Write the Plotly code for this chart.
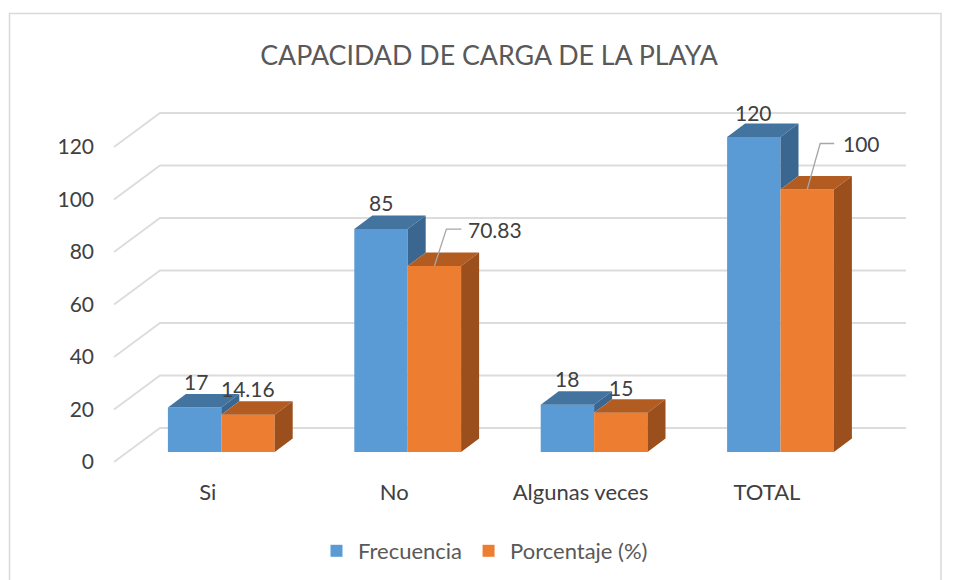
import plotly.graph_objects as go

categories = ["Si", "No", "Algunas veces", "TOTAL"]
frecuencia = [17, 85, 18, 120]
porcentaje = [14.16, 70.83, 15, 100]
frecuencia_labels = ["17", "85", "18", "120"]
porcentaje_labels = ["14.16", "70.83", "15", "100"]
y_ticks = [0, 20, 40, 60, 80, 100, 120]

# plot scales (px per data unit) and plot box
W, H = 954, 580
PX_X, PX_Y = 186.4, 2.625
X0_PX, Y0_PX = 221.3, 452.0        # where x=0 / value=0 fall on the bar plane
L, R, T, B = 97, 925, 90, 472
fx = lambda px: (px - X0_PX) / PX_X
fy = lambda px: (Y0_PX - px) / PX_Y

BAR_W = 53.4 / PX_X
DX, DY = 18 / PX_X, 13.5 / PX_Y     # bar depth
FRONT = 10 / PX_Y                   # wall front below bar plane
BACK = 24 / PX_Y                    # wall back above bar plane

BLUE, BLUE_TOP, BLUE_SIDE = "#5B9BD5", "#4374A0", "#3A6690"
ORANGE, ORANGE_TOP, ORANGE_SIDE = "#ED7D31", "#B35C21", "#9A4F1C"
TXT = "#404040"
FONT = "Lato"

fig = go.Figure()
xs = list(range(len(categories)))
fig.add_bar(x=xs, y=frecuencia, name="Frecuencia", marker=dict(color=BLUE, line_width=0))
fig.add_bar(x=xs, y=porcentaje, name="Porcentaje (%)", marker=dict(color=ORANGE, line_width=0))


def poly(px, py, color):
    fig.add_scatter(x=px + px[:1], y=py + py[:1], mode="lines", fill="toself", fillcolor=color,
                    line=dict(width=0, color=color), showlegend=False, hoverinfo="skip")


for i, (b, o) in enumerate(zip(frecuencia, porcentaje)):
    # blue top + visible part of blue side
    xl, xm, xr = i - BAR_W, i, i + BAR_W
    poly([xl, xl + DX, xm + DX, xm], [b, b + DY, b + DY, b], BLUE_TOP)
    poly([xm, xm + DX, xm + DX, xm], [o, o + DY, b + DY, b], BLUE_SIDE)
    # orange top + side
    poly([xm, xm + DX, xr + DX, xr], [o, o + DY, o + DY, o], ORANGE_TOP)
    poly([xr, xr + DX, xr + DX, xr], [0, DY, o + DY, o], ORANGE_SIDE)

# gridlines of the 3D wall
shapes = []
gx0, gx1, gx2 = fx(114), fx(160), fx(906)
for v in y_ticks:
    shapes.append(dict(type="path", layer="below", xref="x", yref="y",
                       path=f"M {gx0},{v - FRONT} L {gx1},{v + BACK} L {gx2},{v + BACK}",
                       line=dict(color="#DCDCDC", width=1.8)))

# chart frame
shapes.append(dict(type="rect", layer="below", xref="paper", yref="paper",
                   x0=(9.5 - L) / (R - L), x1=(941 - L) / (R - L),
                   y0=(B - 600) / (B - T), y1=(B - 13.5) / (B - T),
                   line=dict(color="#D9D9D9", width=1.5)))

# leader lines for the two displaced labels
for i, v, (dx1, dy1), (dx2, dy2) in [
    (1, porcentaje[1], (12, 37), (27, 37)),
    (3, porcentaje[3], (13, 46), (27, 46)),
]:
    cx = i + BAR_W / 2
    shapes.append(dict(type="path", xref="x", yref="y",
                       path=f"M {cx},{v} L {cx + dx1 / PX_X},{v + dy1 / PX_Y} L {cx + dx2 / PX_X},{v + dy2 / PX_Y}",
                       line=dict(color="#A6A6A6", width=1.3)))

annotations = []
blue_off = [(1, 26), (0, 26), (0, 26), (0, 25)]
orange_off = [(0, 26), (61, 37), (0, 25), (54, 46)]
for i in xs:
    annotations.append(dict(x=i - BAR_W / 2, y=frecuencia[i], text=frecuencia_labels[i], showarrow=False,
                            xshift=blue_off[i][0], yshift=blue_off[i][1], xanchor="center", yanchor="middle",
                            font=dict(family=FONT, size=21, color=TXT)))
    annotations.append(dict(x=i + BAR_W / 2, y=porcentaje[i], text=porcentaje_labels[i], showarrow=False,
                            xshift=orange_off[i][0], yshift=orange_off[i][1], xanchor="center", yanchor="middle",
                            font=dict(family=FONT, size=21, color=TXT)))

fig.update_layout(
    width=W, height=H, margin=dict(l=L, r=W - R, t=T, b=H - B, pad=0, autoexpand=False),
    paper_bgcolor="white", plot_bgcolor="rgba(0,0,0,0)",
    font=dict(family=FONT, size=20, color="#595959"),
    title=dict(text="CAPACIDAD DE CARGA DE LA PLAYA", x=489 / W, xanchor="center", y=1 - 56 / H, yanchor="middle",
               font=dict(family=FONT, size=26.8, color="#595959")),
    barmode="group", bargap=1 - 2 * BAR_W, bargroupgap=0,
    shapes=shapes, annotations=annotations, hovermode=False,
    legend=dict(orientation="h", x=(315 - L) / (R - L), xanchor="left", y=(B - 551) / (B - T), yanchor="middle",
                font=dict(family=FONT, size=22, color="#595959"), bgcolor="rgba(0,0,0,0)", traceorder="normal",
                itemwidth=33),
    xaxis=dict(range=[fx(L), fx(R)], showgrid=False, zeroline=False, showline=False,
               tickmode="array", tickvals=[i - 13.5 / PX_X for i in xs], ticktext=categories,
               ticks="outside", ticklen=1, tickcolor="rgba(0,0,0,0)", tickfont=dict(family=FONT, size=22, color=TXT)),
    yaxis=dict(range=[fy(B), fy(T)], showgrid=False, zeroline=False, showline=False,
               tickmode="array", tickvals=[v - FRONT for v in y_ticks], ticktext=[str(v) for v in y_ticks],
               ticks="", ticklabelstandoff=2, tickfont=dict(family=FONT, size=21, color=TXT)),
)

fig.write_html("out.html", post_script="document.body.style.margin='0';", config=dict(displayModeBar=False))
